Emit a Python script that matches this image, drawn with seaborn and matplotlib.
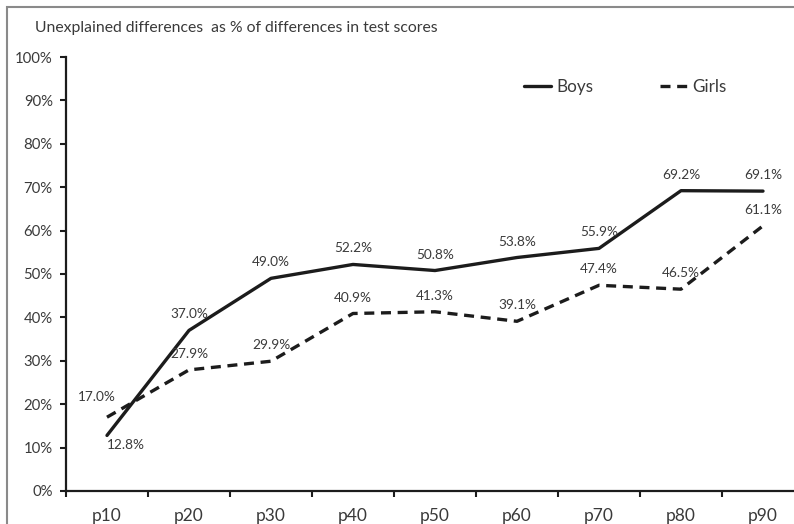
import matplotlib
matplotlib.use("Agg")
import matplotlib.pyplot as plt
from matplotlib.patches import Rectangle
from matplotlib.ticker import FixedLocator, PercentFormatter
import seaborn as sns
import pandas as pd

# Percentiles of the test-score distribution
percentiles = ["p10", "p20", "p30", "p40", "p50", "p60", "p70", "p80", "p90"]
# Unexplained differences as % of differences in test scores
boys = [12.8, 37.0, 49.0, 52.2, 50.8, 53.8, 55.9, 69.2, 69.1]
girls = [17.0, 27.9, 29.9, 40.9, 41.3, 39.1, 47.4, 46.5, 61.1]
y_ticks = [0, 10, 20, 30, 40, 50, 60, 70, 80, 90, 100]

df = pd.DataFrame({
    "percentile": percentiles * 2,
    "pos": list(range(len(percentiles))) * 2,
    "value": boys + girls,
    "group": ["Boys"] * len(boys) + ["Girls"] * len(girls),
})

sns.set_style("white")
plt.rcParams["font.family"] = ["Lato", "DejaVu Sans"]
text_col = "#3a3a3a"
line_col = "#1c1c1c"

fig = plt.figure(figsize=(7.94, 5.24), dpi=100)
ax = fig.add_axes([0.0831, 0.0630, 0.9295, 0.8282])

sns.lineplot(
    data=df, x="pos", y="value", hue="group", style="group",
    palette={"Boys": line_col, "Girls": line_col},
    dashes={"Boys": "", "Girls": (3, 2)},
    linewidth=2.4, ax=ax, legend=True,
)

ax.set_xlim(-0.5, len(percentiles) - 0.5)
ax.set_ylim(0, 100)
ax.set_xlabel("")
ax.set_ylabel("")

# Category labels centred, tick marks on the boundaries between categories
ax.set_xticks(range(len(percentiles)))
ax.set_xticklabels(percentiles, fontsize=12.5, color=text_col)
ax.xaxis.set_minor_locator(FixedLocator([i - 0.5 for i in range(len(percentiles) + 1)]))
ax.tick_params(axis="x", which="major", length=0, pad=12)
ax.tick_params(axis="x", which="minor", length=4.5, width=1.5, color=line_col,
               direction="out", bottom=True)

ax.set_yticks(y_ticks)
ax.yaxis.set_major_formatter(PercentFormatter(decimals=0))
ax.tick_params(axis="y", length=4.5, width=1.5, color=line_col, direction="out",
               left=True, labelsize=10.7, labelcolor=text_col, pad=5)

for side in ("top", "right"):
    ax.spines[side].set_visible(False)
for side in ("left", "bottom"):
    ax.spines[side].set_color(line_col)
    ax.spines[side].set_linewidth(1.6)

# Value labels (offsets in points: dx, dy)
default_offset = (0, 11.5)
boys_offsets = {0: (14, -7)}
girls_offsets = {0: (-7, 14.5)}
for series, offsets in ((boys, boys_offsets), (girls, girls_offsets)):
    for i, v in enumerate(series):
        dx, dy = offsets.get(i, default_offset)
        ax.annotate(f"{v:.1f}%", xy=(i, v), xytext=(dx, dy), textcoords="offset points",
                    ha="center", va="center", fontsize=9.8, color=text_col)

leg = ax.legend(loc="center", bbox_to_anchor=(0.758, 0.93), ncol=2, frameon=False,
                fontsize=12.3, handlelength=1.6, handletextpad=0.3, columnspacing=3.9,
                labelcolor=text_col)

fig.text(0.044, 0.946, "Unexplained differences  as % of differences in test scores",
         fontsize=11.3, color=text_col, ha="left", va="center")

# Chart frame
fig.patches.append(Rectangle((7 / 794, -0.1), 1.2, 1 - 7 / 524 + 0.1,
                             transform=fig.transFigure, fill=False,
                             edgecolor="#8a8a8a", linewidth=1.5))

fig.savefig("out.png", dpi=100)
